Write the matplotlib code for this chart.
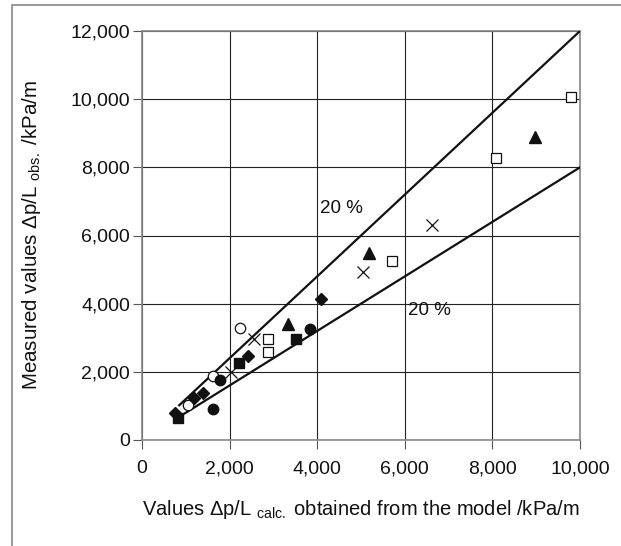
import matplotlib
matplotlib.use("Agg")
import matplotlib.pyplot as plt
from matplotlib.patches import Rectangle

plt.rcParams['font.family'] = ['Liberation Sans', 'DejaVu Sans']
plt.rcParams['mathtext.fontset'] = 'custom'
plt.rcParams['mathtext.rm'] = 'Liberation Sans'
plt.rcParams['mathtext.it'] = 'Liberation Sans:italic'

# ---- data ----
open_sq_x = [9800, 8080, 5700, 2880, 2880]
open_sq_y = [10050, 8270, 5250, 2960, 2580]

tri_x = [8970, 5180, 3330]
tri_y = [8890, 5490, 3400]

cross_x = [6620, 5050, 2560, 2040]
cross_y = [6310, 4930, 2960, 1990]

open_circ_x = [2240, 1620, 1050]
open_circ_y = [3290, 1880, 1030]

fill_circ_x = [3840, 1780, 1620]
fill_circ_y = [3260, 1760, 910]

fill_sq_x = [3520, 2220, 820]
fill_sq_y = [2960, 2260, 650]

diamond_x = [4090, 2420, 1400, 1180, 760]
diamond_y = [4150, 2460, 1380, 1220, 800]

line_x = [850, 10000]
upper_factor = 1.2
lower_factor = 0.8

x_ticks = [0, 2000, 4000, 6000, 8000, 10000]
y_ticks = [0, 2000, 4000, 6000, 8000, 10000, 12000]

fig = plt.figure(figsize=(6.21, 5.46), dpi=100)
# outer frame
fig.patches.append(Rectangle((12/621, -0.05), 1.2, (546-5)/546 + 0.05,
                             transform=fig.transFigure, fill=False,
                             edgecolor='#888888', lw=1.2))
ax = fig.add_axes([142/621, 106/546, 438/621, 409/546])

ax.set_xlim(0, 10000)
ax.set_ylim(0, 12000)
ax.set_xticks(x_ticks)
ax.set_yticks(y_ticks)
ax.set_xticklabels([f"{v:,}" for v in x_ticks])
ax.set_yticklabels([f"{v:,}" for v in y_ticks])
ax.grid(True, color='#222222', lw=0.8)
ax.set_axisbelow(True)
for s in ax.spines.values():
    s.set_color('#888888')
    s.set_linewidth(1.2)
ax.tick_params(direction='out', length=6.5, width=0.8, color='#555555',
               labelsize=14, labelcolor='#111111')
ax.tick_params(axis='y', pad=2)
ax.tick_params(axis='x', pad=8)

# 20% lines
ax.plot(line_x, [upper_factor * v for v in line_x], color='#111111', lw=1.6, zorder=3)
ax.plot(line_x, [lower_factor * v for v in line_x], color='#111111', lw=1.6, zorder=3)

ms = 7.5
ax.plot(open_sq_x, open_sq_y, 's', ms=ms, mfc='white', mec='#111111', mew=0.9, ls='none', zorder=4)
ax.plot(tri_x, tri_y, '^', ms=9, color='#111111', ls='none', zorder=4)
ax.plot(cross_x, cross_y, 'x', ms=9, color='#111111', mew=0.9, ls='none', zorder=4)
ax.plot(open_circ_x, open_circ_y, 'o', ms=ms, mfc='white', mec='#111111', mew=0.9, ls='none', zorder=4)
ax.plot(fill_circ_x, fill_circ_y, 'o', ms=ms, color='#111111', ls='none', zorder=4)
ax.plot(fill_sq_x, fill_sq_y, 's', ms=ms, color='#111111', ls='none', zorder=4)
ax.plot(diamond_x, diamond_y, 'D', ms=6.5, color='#111111', ls='none', zorder=4)

ax.text(4060, 6800, '20 %', fontsize=13.5, va='center', ha='left', color='#111111')
ax.text(6080, 3800, '20 %', fontsize=13.5, va='center', ha='left', color='#111111')

ax.set_xlabel(r'Values $\Delta$p/L $_{\mathrm{calc.}}$ obtained from the model /kPa/m',
              fontsize=14.5, color='#111111')
ax.set_ylabel(r'Measured values $\Delta$p/L $_{\mathrm{obs.}}$ /kPa/m',
              fontsize=14.8, color='#111111')
ax.xaxis.set_label_coords(0.5, -0.171)
ax.yaxis.set_label_coords(-0.253, 0.5)
ax.xaxis.label.set_va('center')
ax.yaxis.label.set_va('center')

fig.savefig('out.png', dpi=100)
